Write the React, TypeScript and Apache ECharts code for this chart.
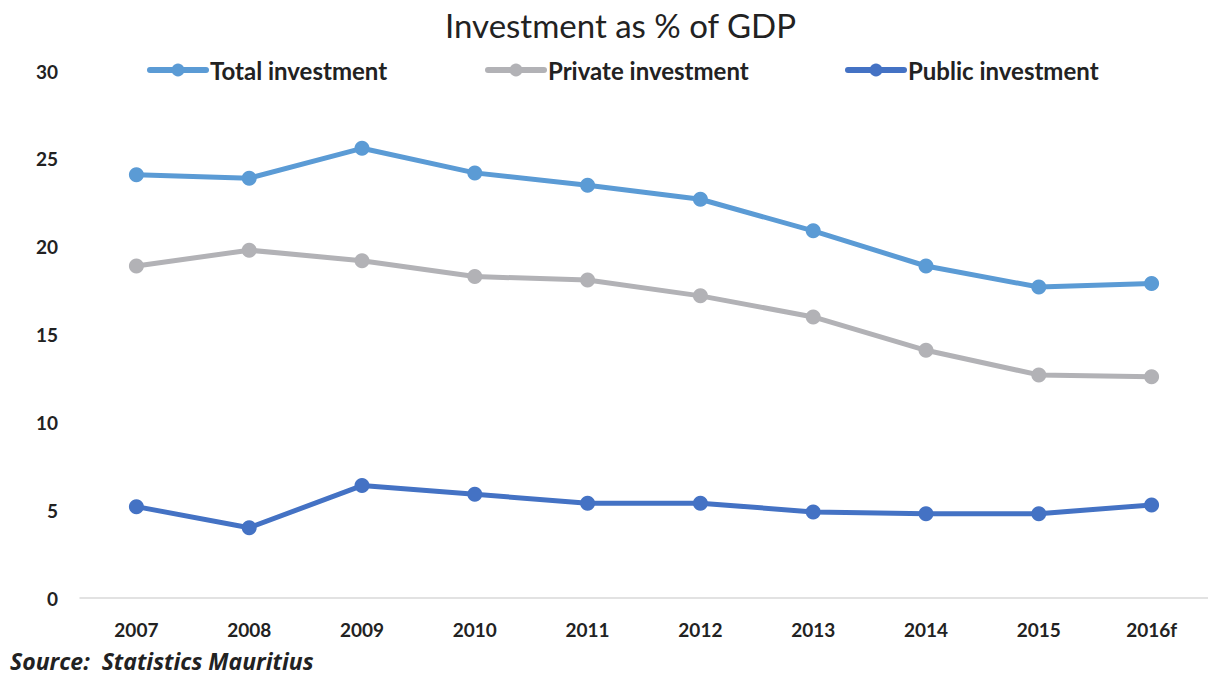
import React, { useEffect, useRef } from "react";
import * as echarts from "echarts";

const categories = ["2007", "2008", "2009", "2010", "2011", "2012", "2013", "2014", "2015", "2016f"];
const totalInvestment = [24.1, 23.9, 25.6, 24.2, 23.5, 22.7, 20.9, 18.9, 17.7, 17.9];
const privateInvestment = [18.9, 19.8, 19.2, 18.3, 18.1, 17.2, 16.0, 14.1, 12.7, 12.6];
const publicInvestment = [5.2, 4.0, 6.4, 5.9, 5.4, 5.4, 4.9, 4.8, 4.8, 5.3];

const FONT = "Lato, 'Open Sans', sans-serif";

export default function App() {
  const ref = useRef<HTMLDivElement>(null);
  useEffect(() => {
    if (!ref.current) return;
    const chart = echarts.init(ref.current, undefined, { renderer: "svg" });
    const mk = (name: string, data: number[], color: string) => ({
      name,
      type: "line",
      data,
      symbol: "circle",
      symbolSize: 15,
      lineStyle: { width: 5, color },
      itemStyle: { color },
      z: 3,
    });
    const legendBase = {
      top: 58,
      padding: 0,
      itemWidth: 56,
      itemHeight: 16,
      itemGap: 5,
      lineStyle: { width: 6, cap: "round" },
      textStyle: { fontFamily: FONT, fontWeight: "bold", fontSize: 24, color: "#222", padding: [0, 0, 0, -1] },
    };
    chart.setOption({
      animation: false,
      title: {
        text: "Investment as % of GDP",
        left: 445,
        top: 8,
        padding: 0,
        textStyle: { fontFamily: FONT, fontWeight: "normal", fontSize: 33, color: "#222" },
      },
      legend: [
        { ...legendBase, left: 147, data: ["Total investment"] },
        { ...legendBase, left: 485, data: ["Private investment"] },
        { ...legendBase, left: 845, data: ["Public investment"] },
      ],
      graphic: [
        {
          type: "text",
          left: 10,
          top: 649,
          style: {
            text: "Source:  Statistics Mauritius",
            font: `italic bold 23px 'Open Sans', sans-serif`,
            fill: "#222",
          },
        },
      ],
      grid: { left: 80, right: -3, top: 71, bottom: 79, containLabel: false },
      xAxis: {
        type: "category",
        data: categories,
        boundaryGap: true,
        axisLine: { lineStyle: { color: "#d9d9d9", width: 1.5 } },
        axisTick: { show: false },
        axisLabel: {
          fontFamily: FONT,
          fontWeight: "bold",
          fontSize: 19,
          color: "#222",
          margin: 22,
        },
      },
      yAxis: {
        type: "value",
        min: 0,
        max: 30,
        interval: 5,
        splitLine: { show: false },
        axisLine: { show: false },
        axisTick: { show: false },
        axisLabel: {
          fontFamily: FONT,
          fontWeight: "bold",
          fontSize: 19,
          color: "#222",
          margin: 22,
        },
      },
      series: [
        mk("Total investment", totalInvestment, "#5B9BD5"),
        mk("Private investment", privateInvestment, "#B2B2B6"),
        mk("Public investment", publicInvestment, "#4472C4"),
      ],
    });
    return () => chart.dispose();
  }, []);
  return (
    <div
      ref={ref}
      style={{ position: "fixed", left: 0, top: 0, width: 1208, height: 677, background: "#fff" }}
    />
  );
}
